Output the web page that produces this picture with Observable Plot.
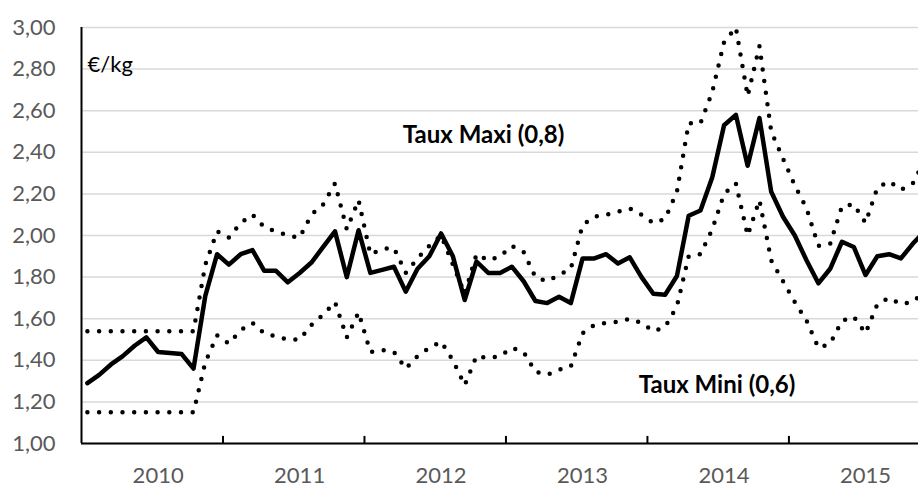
<!DOCTYPE html>
<html><head><meta charset="utf-8">
<script src="https://cdn.jsdelivr.net/npm/d3@7"></script>
<script src="https://cdn.jsdelivr.net/npm/@observablehq/plot@0.6"></script>
<style>
html,body{margin:0;padding:0;background:#fff;overflow:hidden;}
#chart svg{display:block;}
</style></head><body><div id="chart"></div>
<script>
// Years shown on the category axis (12 monthly points per year)
const years = [2010, 2011, 2012, 2013, 2014, 2015];

// Prix (solid line), monthly Jan 2010 – Dec 2015, €/kg
const prix = [
  1.29, 1.33, 1.38, 1.42, 1.47, 1.51, 1.44, 1.435, 1.43, 1.36, 1.71, 1.91,
  1.86, 1.91, 1.93, 1.83, 1.83, 1.775, 1.82, 1.87, 1.945, 2.02, 1.80, 2.025,
  1.82, 1.835, 1.85, 1.73, 1.84, 1.90, 2.01, 1.90, 1.69, 1.875, 1.82, 1.82,
  1.85, 1.78, 1.685, 1.675, 1.705, 1.675, 1.89, 1.89, 1.91, 1.865, 1.895, 1.80,
  1.72, 1.715, 1.805, 2.095, 2.12, 2.28, 2.53, 2.58, 2.335, 2.565, 2.21, 2.09,
  2.00, 1.88, 1.77, 1.84, 1.97, 1.945, 1.81, 1.90, 1.91, 1.89, 1.96, 2.02
];

// Taux Maxi (0,8) – upper dotted line
const tauxMaxi = [
  1.54, 1.54, 1.54, 1.54, 1.54, 1.54, 1.54, 1.54, 1.54, 1.54, 1.86, 2.02,
  1.99, 2.06, 2.10, 2.04, 2.02, 2.00, 1.99, 2.10, 2.15, 2.25, 2.03, 2.17,
  1.91, 1.935, 1.94, 1.82, 1.89, 1.95, 2.00, 1.86, 1.72, 1.91, 1.88, 1.90,
  1.95, 1.92, 1.80, 1.78, 1.81, 1.84, 2.05, 2.09, 2.10, 2.115, 2.13, 2.10,
  2.06, 2.08, 2.21, 2.54, 2.54, 2.69, 2.93, 3.00, 2.67, 2.91, 2.50, 2.37,
  2.24, 2.13, 1.95, 1.96, 2.14, 2.15, 2.06, 2.23, 2.26, 2.22, 2.25, 2.36
];

// Taux Mini (0,6) – lower dotted line
const tauxMini = [
  1.15, 1.15, 1.15, 1.15, 1.15, 1.15, 1.15, 1.15, 1.15, 1.15, 1.39, 1.52,
  1.48, 1.545, 1.58, 1.53, 1.515, 1.50, 1.50, 1.57, 1.62, 1.68, 1.51, 1.63,
  1.44, 1.45, 1.44, 1.36, 1.42, 1.46, 1.49, 1.40, 1.28, 1.42, 1.41, 1.42,
  1.46, 1.44, 1.345, 1.33, 1.355, 1.37, 1.53, 1.57, 1.58, 1.585, 1.60, 1.58,
  1.54, 1.56, 1.66, 1.90, 1.91, 2.03, 2.20, 2.25, 2.00, 2.17, 1.88, 1.78,
  1.68, 1.59, 1.46, 1.48, 1.59, 1.61, 1.53, 1.67, 1.70, 1.67, 1.68, 1.73
];

// Y axis tick values
const yTicks = [1.0, 1.2, 1.4, 1.6, 1.8, 2.0, 2.2, 2.4, 2.6, 2.8, 3.0];

// Text labels (position in month index / €/kg)
const unitLabel = "€/kg";
const annotations = [
  {label: "Taux Maxi (0,8)", month: 33.6, value: 2.48},
  {label: "Taux Mini (0,6)", month: 53.4, value: 1.28}
];

const xDomain = [-0.5, years.length * 12 - 0.5];
const yDomain = [yTicks[0], yTicks[yTicks.length - 1]];
const yearBounds = years.slice(1).map((y, i) => (i + 1) * 12 - 0.5);
const yearLabelPos = years.map((y, i) => ({year: y, month: i * 12 + 6}));
const fmt = d => d.toFixed(2).replace(".", ",");

const dotted = {stroke: "black", strokeWidth: 4.5, strokeDasharray: "0 11.7", strokeLinecap: "round", strokeLinejoin: "round"};

const chart = Plot.plot({
  width: 918,
  height: 487,
  marginLeft: 81,
  marginRight: 0,
  marginTop: 27,
  marginBottom: 44,
  style: {fontFamily: "Lato, sans-serif", background: "white", overflow: "hidden"},
  x: {domain: xDomain, range: [81, 929.9], axis: null},
  y: {domain: yDomain, axis: null},
  marks: [
    Plot.ruleY(yTicks, {y: d => d, stroke: "#d9d9d9", strokeWidth: 1.5}),
    Plot.ruleY([yDomain[0]], {y: d => d, stroke: "black", strokeWidth: 2}),
    Plot.ruleX([xDomain[0]], {x: d => d, stroke: "black", strokeWidth: 2}),
    Plot.ruleX(yearBounds, {x: d => d, y1: yDomain[0], y2: yDomain[0] + 0.034, stroke: "black", strokeWidth: 2}),
    Plot.line(tauxMaxi, {x: (d, i) => i, y: d => d, ...dotted}),
    Plot.line(tauxMini, {x: (d, i) => i, y: d => d, ...dotted}),
    Plot.line(prix, {x: (d, i) => i, y: d => d, stroke: "black", strokeWidth: 4.5, strokeLinejoin: "round"}),
    Plot.text(yTicks, {x: xDomain[0], y: d => d, text: fmt, textAnchor: "end", dx: -26, fill: "#595959", fontSize: 22}),
    Plot.text(yearLabelPos, {x: "month", y: yDomain[0], text: d => String(d.year), dy: 32, fill: "#595959", fontSize: 22}),
    Plot.text([unitLabel], {frameAnchor: "top-left", text: d => d, textAnchor: "start", dx: 6, dy: 29, fill: "black", fontSize: 22}),
    Plot.text(annotations, {x: "month", y: "value", text: "label", fontWeight: "bold", fill: "black", fontSize: 24})
  ]
});
document.getElementById("chart").appendChild(chart);
</script>
</body></html>
